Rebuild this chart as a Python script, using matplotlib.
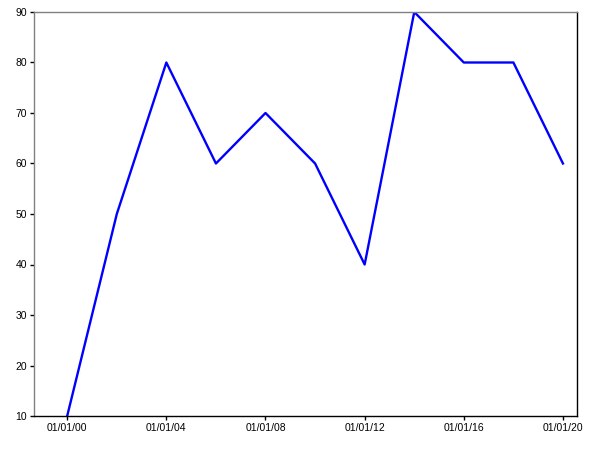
import datetime as dt

import matplotlib
matplotlib.use("Agg")
import matplotlib.pyplot as plt
import matplotlib.dates as mdates

plt.rcParams["font.family"] = ["Liberation Sans", "DejaVu Sans"]

years = [2000, 2002, 2004, 2006, 2008, 2010, 2012, 2014, 2016, 2018, 2020]
values = [10, 50, 80, 60, 70, 60, 40, 90, 80, 80, 60]
tick_years = [2000, 2004, 2008, 2012, 2016, 2020]

dates = [dt.datetime(y, 1, 1) for y in years]

fig = plt.figure(figsize=(6, 4.5), dpi=100)
ax = fig.add_axes([34 / 600, 1 - 416 / 450, (577 - 34) / 600, (416 - 12) / 450])

ax.plot(dates, values, color="#0000ff", linewidth=1.7)

ax.set_xlim(dt.datetime(1998, 8, 30), dt.datetime(2020, 7, 26))
ax.set_ylim(10, 90)
ax.set_yticks(range(10, 91, 10))
ax.set_xticks([dt.datetime(y, 1, 1) for y in tick_years])
ax.xaxis.set_major_formatter(mdates.DateFormatter("%m/%d/%y"))

ax.tick_params(labelsize=7.5, length=3, width=1, pad=2)
for side in ("left", "top"):
    ax.spines[side].set_color("#808080")
for side in ("bottom", "right"):
    ax.spines[side].set_color("black")
for s in ax.spines.values():
    s.set_linewidth(1)

fig.savefig("out.png", dpi=100, facecolor="white")
